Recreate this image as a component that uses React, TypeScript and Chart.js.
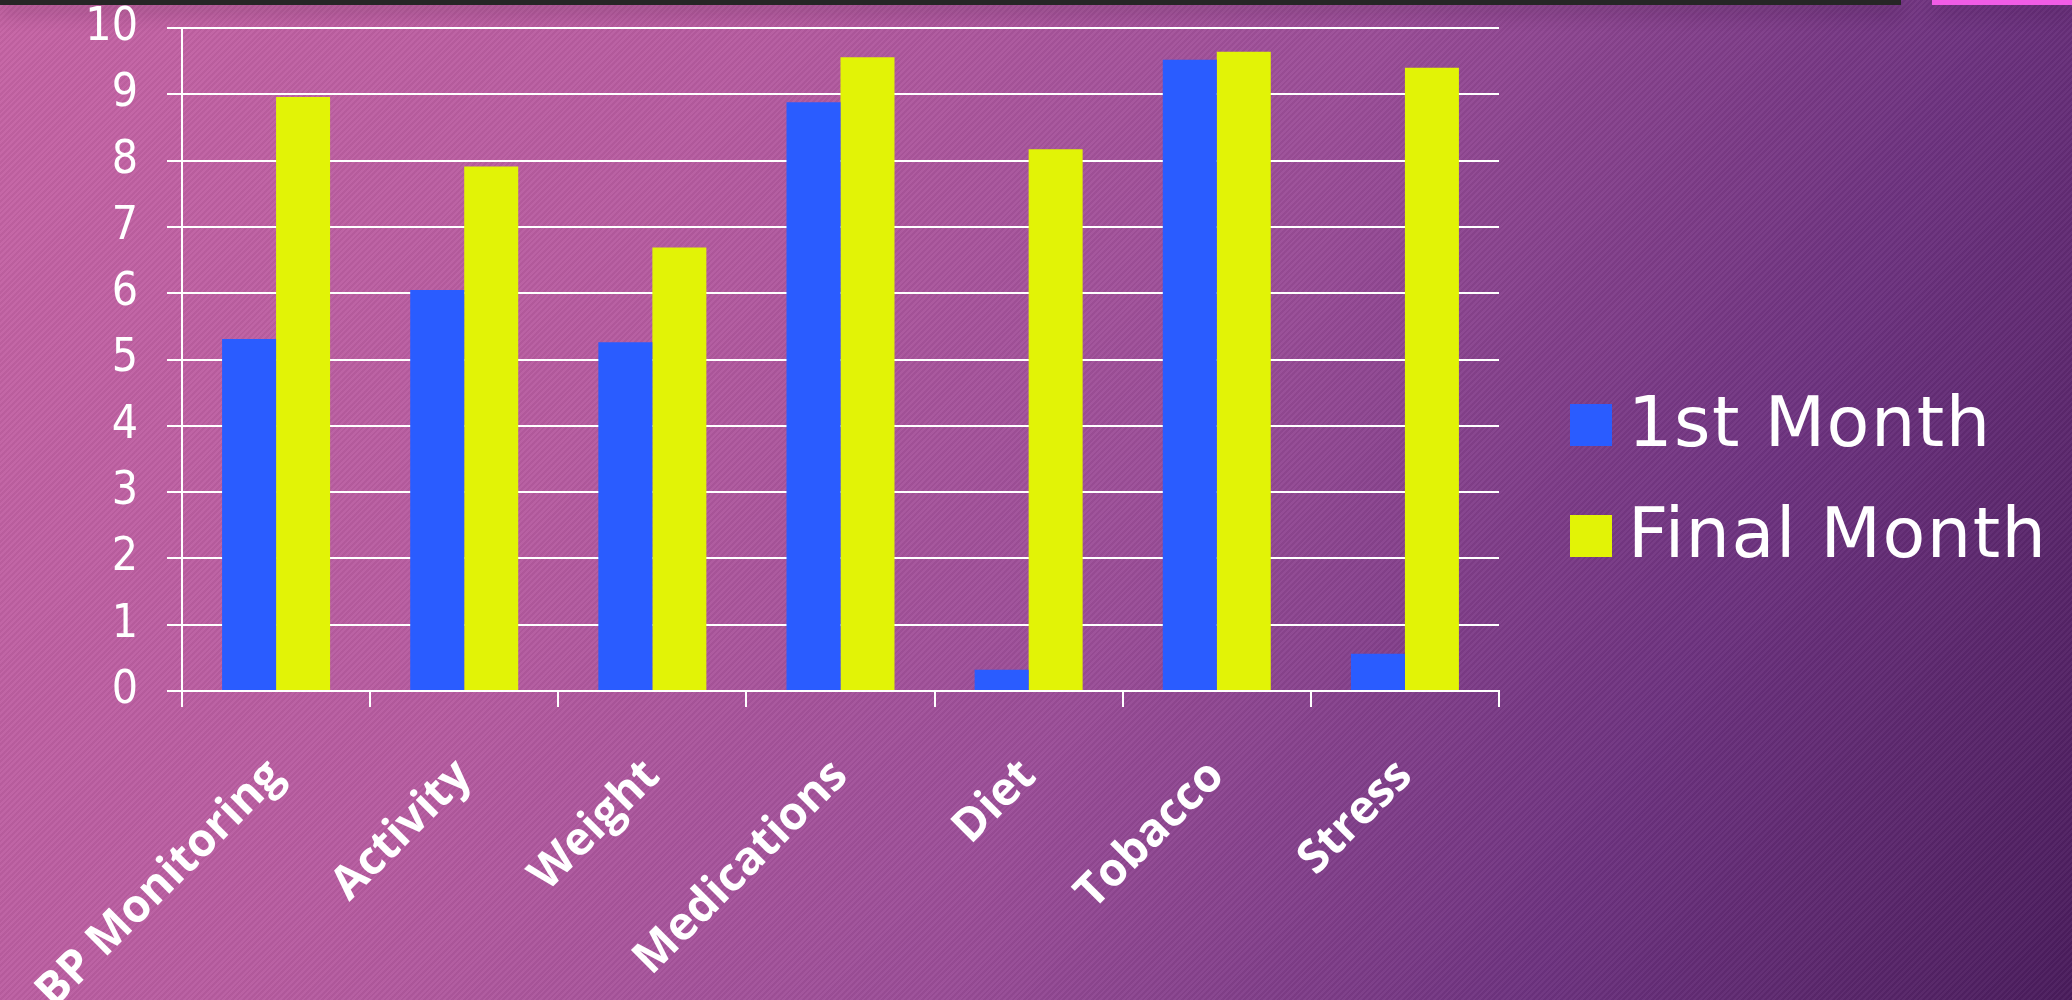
import React, { useEffect, useRef } from "react";
import { Chart, registerables } from "chart.js";

Chart.register(...registerables);

// ---- data ----
const categories = ["BP Monitoring", "Activity", "Weight", "Medications", "Diet", "Tobacco", "Stress"];
const seriesNames = ["1st Month", "Final Month"];
const firstMonth = [5.31, 6.05, 5.26, 8.88, 0.32, 9.52, 0.56];
const finalMonth = [8.96, 7.91, 6.69, 9.56, 8.17, 9.64, 9.4];
const yMin = 0;
const yMax = 10;
const yStep = 1;

const BLUE = "#2a5cff";
const YELLOW = "#e2f306";
const WHITE = "#ffffff";

const W = 2072;
const H = 1000;

const sideLegend = {
  id: "sideLegend",
  afterDraw(chart: any) {
    const { ctx, chartArea } = chart;
    const box = 42;
    const x = chartArea.right + 71;
    const y0 = 425;
    const gap = 111;
    ctx.save();
    chart.data.datasets.forEach((ds: any, i: number) => {
      const cy = y0 + i * gap;
      ctx.fillStyle = ds.backgroundColor;
      ctx.fillRect(x, cy - box / 2, box, box);
      ctx.fillStyle = WHITE;
      ctx.font = '70px "DejaVu Sans", sans-serif';
      try {
        (ctx as any).letterSpacing = "1.5px";
      } catch (e) {}
      ctx.textBaseline = "middle";
      ctx.textAlign = "left";
      ctx.fillText(ds.label, x + box + 16, cy + 3);
    });
    ctx.restore();
  },
};

export default function App() {
  const canvasRef = useRef<HTMLCanvasElement | null>(null);

  useEffect(() => {
    if (!canvasRef.current) return;
    const chart = new Chart(canvasRef.current, {
      type: "bar",
      data: {
        labels: categories,
        datasets: [
          {
            label: seriesNames[0],
            data: firstMonth,
            backgroundColor: BLUE,
            borderWidth: 0,
            categoryPercentage: 0.574,
            barPercentage: 1,
          },
          {
            label: seriesNames[1],
            data: finalMonth,
            backgroundColor: YELLOW,
            borderWidth: 0,
            categoryPercentage: 0.574,
            barPercentage: 1,
          },
        ],
      },
      options: {
        responsive: false,
        animation: false,
        layout: { padding: { left: 0, right: 573, top: 28, bottom: 0 } },
        plugins: {
          legend: { display: false },
          tooltip: { enabled: false },
        },
        scales: {
          x: {
            grid: {
              offset: true,
              drawOnChartArea: false,
              drawTicks: true,
              tickLength: 16,
              color: WHITE,
              lineWidth: 2,
            },
            border: { display: true, color: WHITE, width: 2 },
            ticks: {
              color: WHITE,
              font: { family: '"Open Sans", "DejaVu Sans", sans-serif', size: 46, weight: "bold" },
              minRotation: 45,
              maxRotation: 45,
              autoSkip: false,
              padding: 42,
              labelOffset: 0,
            },
            afterFit: (scale: any) => {
              scale.height = 309;
              scale.paddingLeft = 0;
              scale.paddingRight = 0;
            },
          },
          y: {
            min: yMin,
            max: yMax,
            grid: {
              color: WHITE,
              lineWidth: 2,
              tickLength: 15,
              drawTicks: true,
            },
            border: { display: true, color: WHITE, width: 2 },
            ticks: {
              stepSize: yStep,
              color: WHITE,
              padding: 29,
              font: { family: '"Liberation Sans Narrow", "DejaVu Sans Condensed", sans-serif', size: 46 },
            },
            afterFit: (scale: any) => {
              scale.width = 182;
              scale.paddingTop = 0;
              scale.paddingBottom = 0;
            },
          },
        },
      },
      plugins: [sideLegend],
    });
    return () => chart.destroy();
  }, []);

  return (
    <div
      style={{
        position: "absolute",
        left: 0,
        top: 0,
        width: W,
        height: H,
        overflow: "hidden",
        background:
          "repeating-linear-gradient(135deg, rgba(255,255,255,0.035) 0px, rgba(255,255,255,0.035) 2px, rgba(0,0,0,0.035) 2px, rgba(0,0,0,0.035) 4px), linear-gradient(115deg, #c563a4 0%, #b65ba0 30%, #9a4d97 55%, #6e3380 78%, #4a1c5c 100%)",
      }}
    >
      <div
        style={{
          position: "absolute",
          left: 0,
          top: 0,
          width: 1901,
          height: 5,
          background: "#262626",
          boxShadow: "0 6px 18px rgba(40,10,40,0.45)",
        }}
      />
      <div
        style={{
          position: "absolute",
          left: 1932,
          top: 0,
          width: 140,
          height: 5,
          background: "#f05ce6",
          boxShadow: "0 6px 18px rgba(40,10,40,0.35)",
        }}
      />
      <canvas
        ref={canvasRef}
        width={W}
        height={H}
        style={{ position: "absolute", left: 0, top: 0, width: W, height: H }}
      />
    </div>
  );
}
